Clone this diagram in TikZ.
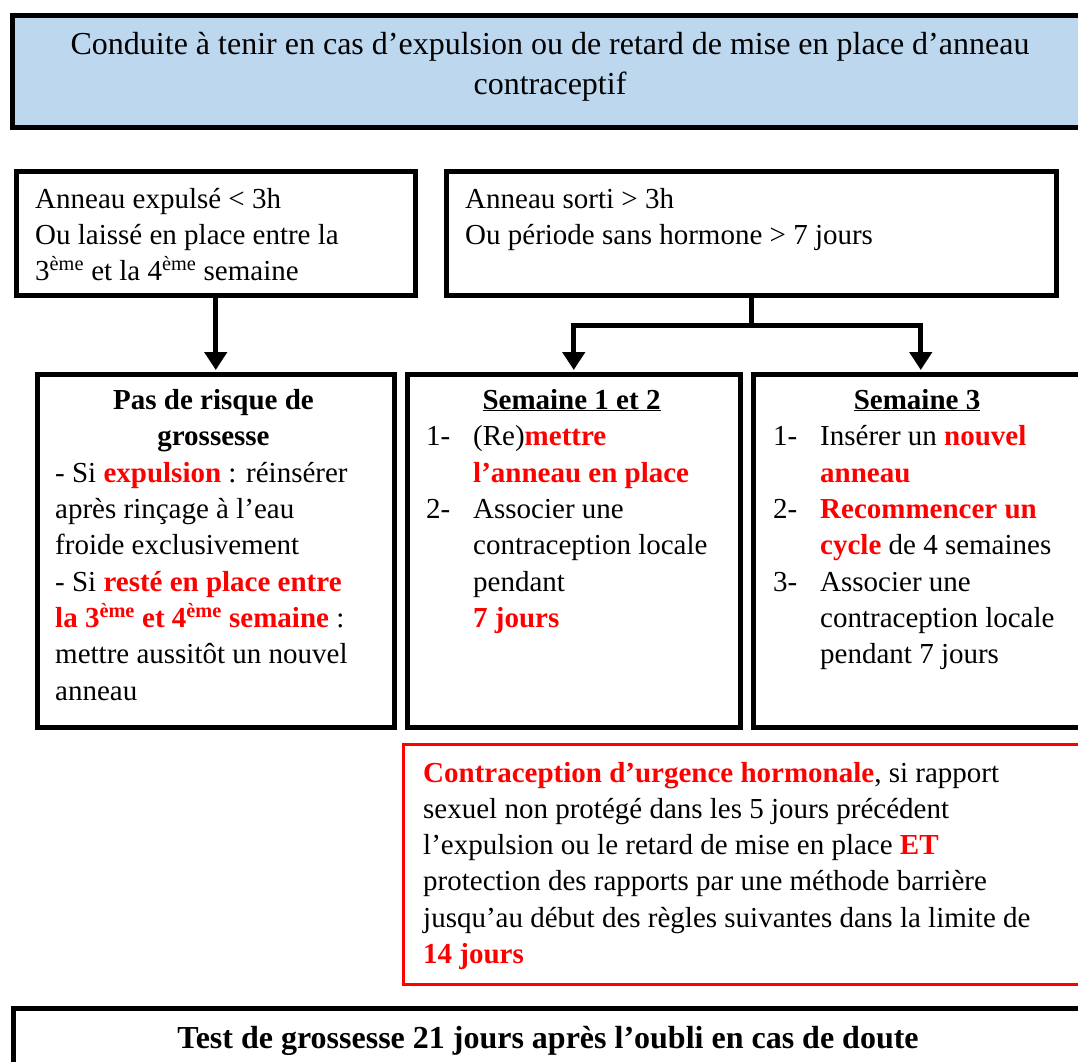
\documentclass[tikz,border=0pt]{standalone}
\usepackage{fontspec}
\setmainfont{Liberation Serif}
\usetikzlibrary{arrows.meta}
\definecolor{titlefill}{RGB}{189,215,238}
\definecolor{myred}{RGB}{255,0,0}
\newcommand\redb[1]{\textcolor{myred}{\textbf{#1}}}
\begin{document}
\begin{tikzpicture}[x=1pt,y=-1pt,
  frame/.style={draw=black,line width=4.5pt,inner sep=0pt,anchor=north west},
  redframe/.style={draw=myred,line width=3pt,inner sep=0pt,anchor=north west},
  txt/.style={inner sep=0pt,anchor=base west,font=\fontsize{29}{36}\selectfont},
  ctxt/.style={txt,anchor=base},
  bigtxt/.style={ctxt,font=\fontsize{32}{40}\selectfont},
  conn/.style={line width=5pt},
  arr/.style={conn,-{Triangle[width=22pt,length=18pt]},shorten >=2pt},
]
\useasboundingbox (0,0) rectangle (1078,1061);

% frames
\node[frame,fill=titlefill,minimum width=1080pt,minimum height=112pt] (T) at (10,13) {};
\node[frame,minimum width=399pt,minimum height=124pt] (A) at (14,169) {};
\node[frame,minimum width=610pt,minimum height=124pt] (B) at (444,169) {};
\node[frame,minimum width=357pt,minimum height=353pt] (C) at (35,372) {};
\node[frame,minimum width=333pt,minimum height=353pt] (D) at (405,372) {};
\node[frame,minimum width=335pt,minimum height=353pt] (E) at (751,372) {};
\node[redframe,minimum width=688pt,minimum height=240pt] (R) at (402,743) {};
\node[frame,minimum width=1080pt,minimum height=80pt] (F) at (11,1006) {};

% connectors
\draw[arr] (A.south) -- (C.north);
\draw[conn] (B.south) -- ++(0,28) coordinate (br);
\draw[conn,line cap=rect] (D.north |- br) -- (E.north |- br);
\draw[arr] (D.north |- br) -- (D.north);
\draw[arr] (E.north |- br) -- (E.north);

% title
\node[bigtxt] (t1) at (550,54) {Conduite à tenir en cas d’expulsion ou de retard de mise en place d’anneau};
\node[bigtxt] (t2) at (550,94) {contraceptif};

% box A
\node[txt] (a1) at (35,208) {Anneau expulsé < 3h};
\node[txt] (a2) at (35,244) {Ou laissé en place entre la};
\node[txt] (a3) at (35,280) {3\textsuperscript{ème} et la 4\textsuperscript{ème} semaine};

% box B
\node[txt] (b1) at (465,208) {Anneau sorti > 3h};
\node[txt] (b2) at (465,244) {Ou période sans hormone > 7 jours};

% box C
\node[ctxt] (c1) at (213.5,409) {\textbf{Pas de risque de}};
\node[ctxt] (c2) at (213.5,445) {\textbf{grossesse}};
\node[txt] (c3) at (55,482) {- Si \redb{expulsion} : réinsérer};
\node[txt] (c4) at (55,518) {après rinçage à l’eau};
\node[txt] (c5) at (55,554) {froide exclusivement};
\node[txt] (c6) at (55,591) {- Si \redb{resté en place entre}};
\node[txt] (c7) at (55,627) {\redb{la 3\textsuperscript{ème} et 4\textsuperscript{ème} semaine} :};
\node[txt] (c8) at (55,663) {mettre aussitôt un nouvel};
\node[txt] (c9) at (55,700) {anneau};

% box D
\node[ctxt] (d0) at (571.5,409) {\textbf{\underline{Semaine 1 et 2}}};
\node[txt] (d1n) at (426,445) {1-};
\node[txt] (d1) at (473,445) {(Re)\redb{mettre}};
\node[txt] (d2) at (473,482) {\redb{l’anneau en place}};
\node[txt] (d3n) at (426,518) {2-};
\node[txt] (d3) at (473,518) {Associer une};
\node[txt] (d4) at (473,554) {contraception locale};
\node[txt] (d5) at (473,591) {pendant};
\node[txt] (d6) at (473,627) {\redb{7 jours}};

% box E
\node[ctxt] (e0) at (917,409) {\textbf{\underline{Semaine 3}}};
\node[txt] (e1n) at (773,445) {1-};
\node[txt] (e1) at (820,445) {Insérer un \redb{nouvel}};
\node[txt] (e2) at (820,482) {\redb{anneau}};
\node[txt] (e3n) at (773,518) {2-};
\node[txt] (e3) at (820,518) {\redb{Recommencer un}};
\node[txt] (e4) at (820,554) {\redb{cycle} de 4 semaines};
\node[txt] (e5n) at (773,591) {3-};
\node[txt] (e5) at (820,591) {Associer une};
\node[txt] (e6) at (820,627) {contraception locale};
\node[txt] (e7) at (820,663) {pendant 7 jours};

% red box
\node[txt] (r1) at (423,782) {\redb{Contraception d’urgence hormonale}, si rapport};
\node[txt] (r2) at (423,818) {sexuel non protégé dans les 5 jours précédent};
\node[txt] (r3) at (423,854) {l’expulsion ou le retard de mise en place \redb{ET}};
\node[txt] (r4) at (423,890) {protection des rapports par une méthode barrière};
\node[txt] (r5) at (423,927) {jusqu’au début des règles suivantes dans la limite de};
\node[txt] (r6) at (423,963) {\redb{14 jours}};

% bottom
\node[bigtxt] (f1) at (548,1048) {\textbf{Test de grossesse 21 jours après l’oubli en cas de doute}};
\end{tikzpicture}
\end{document}
